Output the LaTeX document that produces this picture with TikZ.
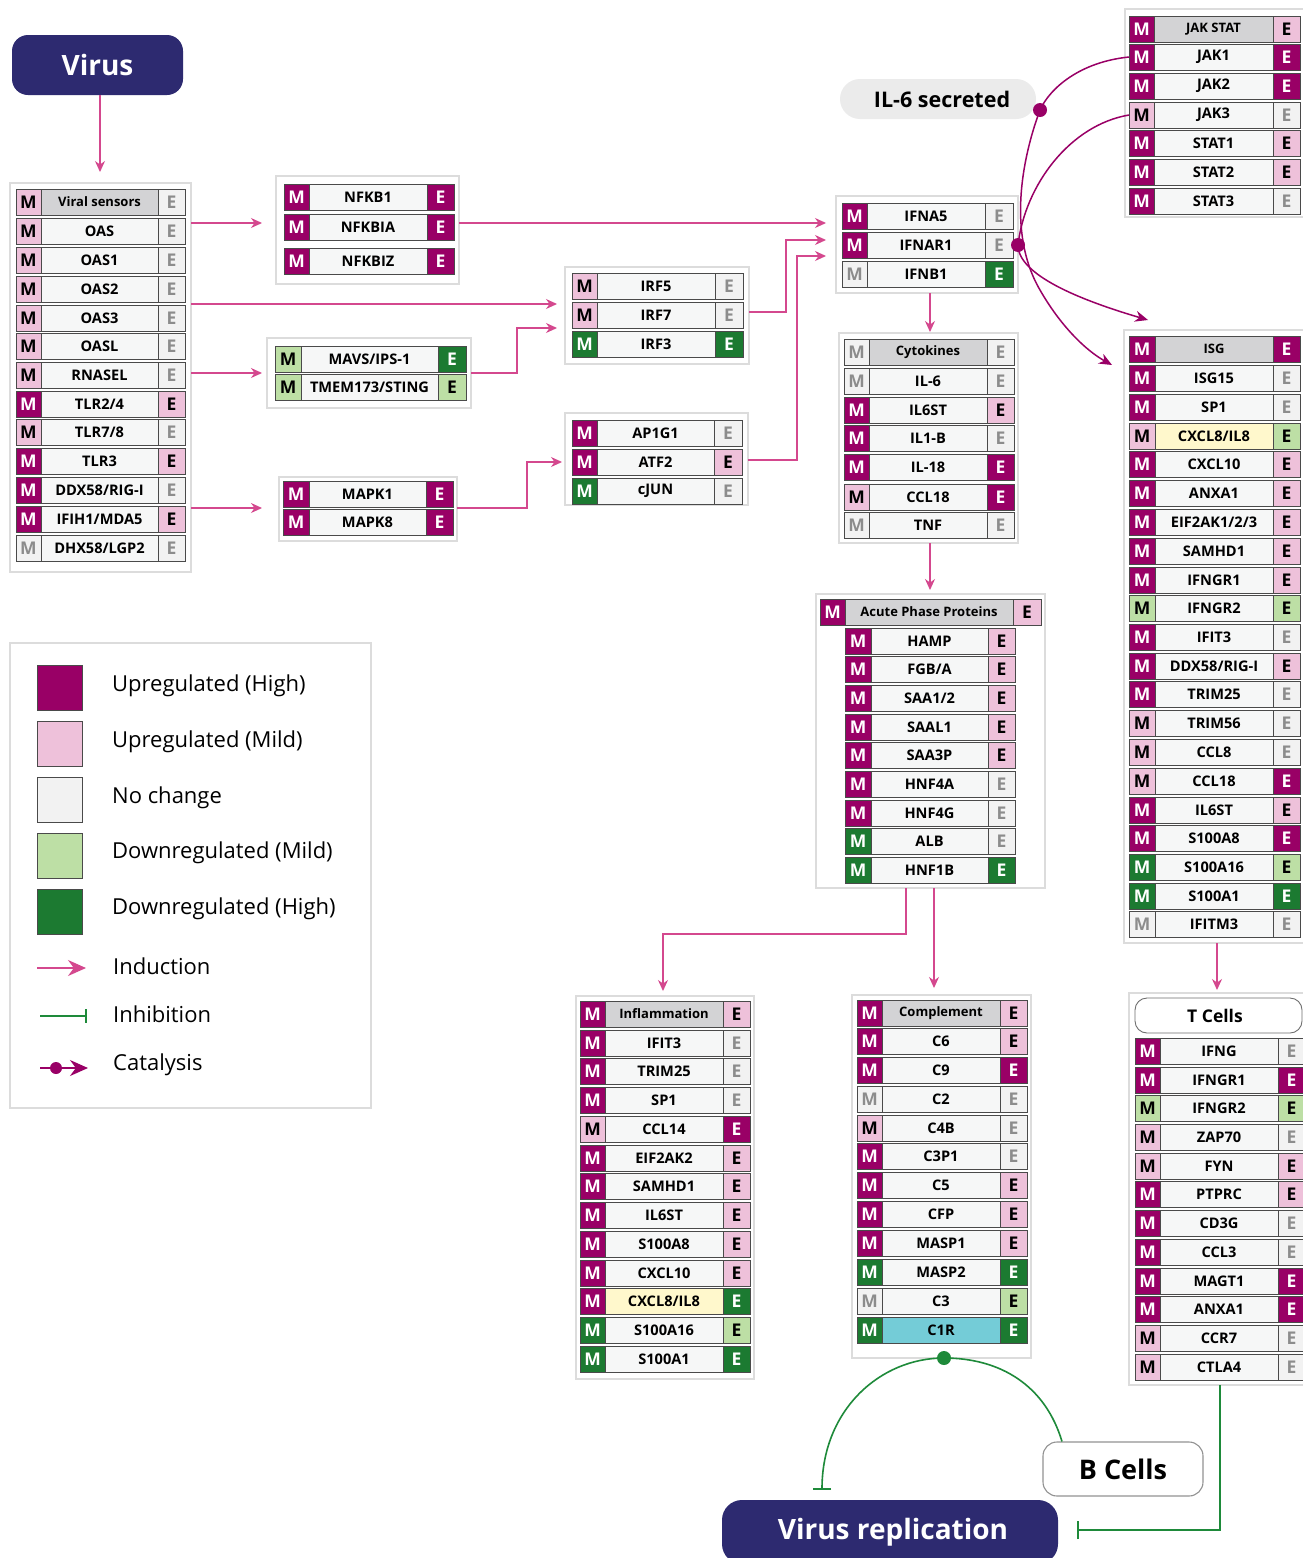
\documentclass[tikz,border=0pt]{standalone}
\usepackage{fontspec}
\setmainfont{Open Sans}
\usetikzlibrary{arrows.meta,calc}
\definecolor{cUH}{HTML}{990066}
\definecolor{cUM}{HTML}{EEC1DA}
\definecolor{cNC}{HTML}{F2F2F2}
\definecolor{cDM}{HTML}{BDDFA5}
\definecolor{cDH}{HTML}{1C7A31}
\definecolor{cNCt}{HTML}{8C8C8C}
\definecolor{cHead}{HTML}{D3D3D5}
\definecolor{cRow}{HTML}{F6F7F7}
\definecolor{cYel}{HTML}{FFF8CC}
\definecolor{cCyan}{HTML}{74CCD7}
\definecolor{cNavy}{HTML}{2D2A70}
\definecolor{cInd}{HTML}{D4488E}
\definecolor{cInh}{HTML}{1E8A3A}
\definecolor{cCat}{HTML}{990066}
\definecolor{cFrame}{HTML}{DCDCDC}
\definecolor{cBorder}{HTML}{4A4A4A}
\definecolor{cPill}{HTML}{EBEBEB}
\newcommand\gf{\fontsize{14.6}{16}\selectfont\bfseries}
\newcommand\hf{\fontsize{13}{14}\selectfont\bfseries}
\newcommand\mef{\fontsize{17.5}{19}\selectfont\bfseries}
\newcommand\genrow[8]{%
 \node[cell,st#5,minimum width={\wM*1pt},font=\mef] (#1m) at ({#2+\wM/2},#3) {M};
 \node[cell,fill=#7,minimum width={\wMid*1pt},font=#8] (#1) at ({#2+\wM+\wMid/2},#3) {#4};
 \node[cell,st#6,minimum width={\wE*1pt},font=\mef] (#1e) at ({#2+\wM+\wMid+\wE/2},#3) {E};
}
\newcommand\trow[5]{\genrow{#1}{\tx}{#2}{#3}{#4}{#5}{cRow}{\gf}}
\newcommand\thead[5]{\genrow{#1}{\tx}{#2}{#3}{#4}{#5}{cHead}{\hf}}
\newcommand\trowf[6]{\genrow{#1}{\tx}{#2}{#3}{#4}{#5}{#6}{\gf}}
\newcommand\grpframe[5]{\node[frameS,minimum width={(#4-#2)*1pt},minimum height={(#5-#3)*1pt}] (#1) at ({(#2+#4)/2},{(#3+#5)/2}) {};}
\begin{document}
\begin{tikzpicture}[x=1pt,y=-1pt,
 cell/.style={draw=cBorder,line width=0.7pt,minimum height=26pt,inner sep=0pt,outer sep=0pt},
 stUH/.style={fill=cUH,text=white},
 stUM/.style={fill=cUM,text=black},
 stNC/.style={fill=cNC,text=cNCt},
 stDM/.style={fill=cDM,text=black},
 stDH/.style={fill=cDH,text=white},
 frameS/.style={draw=cFrame,line width=1.6pt,fill=white,inner sep=0pt,outer sep=0pt},
 ind/.style={draw=cInd,line width=1.3pt,-{Stealth[length=11pt,width=10pt]}},
 inh/.style={draw=cInh,line width=1.6pt,-{Bar[width=18pt,line width=1.6pt]}},
 cat/.style={draw=cCat,line width=1.5pt,-{Stealth[length=13pt,width=11pt]}},
 legsq/.style={draw=cBorder,line width=1pt,minimum size=45pt,inner sep=0pt},
 legtxt/.style={anchor=west,font=\fontsize{22}{25}\selectfont,inner sep=0pt},
 navy/.style={fill=cNavy,text=white,rounded corners=16pt,inner sep=0pt,font=\fontsize{28}{32}\selectfont\bfseries}
]
\useasboundingbox (0,0) rectangle (1302,1558);
\fill[white] (0,0) rectangle (1302,1558);

% ---------- frames ----------
\grpframe{vsF}{10}{183}{191}{572}
\grpframe{nfkbF}{276}{176}{459}{284}
\grpframe{mavsF}{267}{338}{471}{408}
\grpframe{mapkF}{279}{477}{457}{541}
\grpframe{irfF}{565}{267}{749}{364}
\grpframe{apoF}{565}{413}{748}{505}
\grpframe{ifnF}{836}{196}{1018}{293}
\grpframe{cytF}{839}{333}{1018}{543}
\grpframe{jakF}{1125}{9}{1320}{217}
\grpframe{isgF}{1124}{330}{1320}{943}
\grpframe{apF}{816}{594}{1045}{888}
\grpframe{inflF}{576}{996}{754}{1379}
\grpframe{compF}{852}{995}{1031}{1358}
\grpframe{tcF}{1129}{993}{1320}{1385}
\grpframe{legF}{10}{643}{371}{1108}

% ---------- Viral sensors ----------
\def\tx{16}\def\wM{25}\def\wMid{117}\def\wE{27}
\thead{vs0}{202}{Viral sensors}{UM}{NC}
\trow{vs1}{231}{OAS}{UM}{NC}
\trow{vs2}{260}{OAS1}{UM}{NC}
\trow{vs3}{289}{OAS2}{UM}{NC}
\trow{vs4}{318}{OAS3}{UM}{NC}
\trow{vs5}{346}{OASL}{UM}{NC}
\trow{vs6}{375}{RNASEL}{UM}{NC}
\trow{vs7}{404}{TLR2/4}{UH}{UM}
\trow{vs8}{432}{TLR7/8}{UM}{NC}
\trow{vs9}{461}{TLR3}{UH}{UM}
\trow{vs10}{490}{DDX58/RIG-I}{UH}{NC}
\trow{vs11}{519}{IFIH1/MDA5}{UH}{UM}
\trow{vs12}{548}{DHX58/LGP2}{NC}{NC}

% ---------- NFKB ----------
\def\tx{284}\def\wM{25}\def\wMid{118}\def\wE{27}
\trow{nf1}{197}{NFKB1}{UH}{UH}
\trow{nf2}{227}{NFKBIA}{UH}{UH}
\trow{nf3}{261}{NFKBIZ}{UH}{UH}

% ---------- MAVS ----------
\def\tx{275}\def\wM{26}\def\wMid{137}\def\wE{28}
\trow{mv1}{359}{MAVS/IPS-1}{DM}{DH}
\trow{mv2}{387}{TMEM173/STING}{DM}{DM}

% ---------- MAPK ----------
\def\tx{283}\def\wM{26}\def\wMid{117}\def\wE{27}
\trow{mk1}{494}{MAPK1}{UH}{UH}
\trow{mk2}{522}{MAPK8}{UH}{UH}

% ---------- IRF ----------
\def\tx{572}\def\wM{25}\def\wMid{118}\def\wE{28}
\trow{irf5}{286}{IRF5}{UM}{NC}
\trow{irf7}{315}{IRF7}{UM}{NC}
\trow{irf3}{344}{IRF3}{DH}{DH}

% ---------- AP1 ----------
\def\tx{572}\def\wM{25}\def\wMid{117}\def\wE{28}
\trow{ap1}{433}{AP1G1}{UH}{NC}
\trow{ap2}{462}{ATF2}{UH}{UM}
\trow{ap3}{491}{cJUN}{DH}{NC}

% ---------- IFN ----------
\def\tx{842}\def\wM{25}\def\wMid{118}\def\wE{28}
\trow{ifna5}{216}{IFNA5}{UH}{NC}
\trow{ifnar1}{245}{IFNAR1}{UH}{NC}
\trow{ifnb1}{274}{IFNB1}{NC}{DH}

% ---------- Cytokines ----------
\def\tx{844}\def\wM{25}\def\wMid{118}\def\wE{27}
\thead{cy0}{352}{Cytokines}{NC}{NC}
\trow{cy1}{381}{IL-6}{NC}{NC}
\trow{cy2}{410}{IL6ST}{UH}{UM}
\trow{cy3}{438}{IL1-B}{UH}{NC}
\trow{cy4}{467}{IL-18}{UH}{UH}
\trow{cy5}{497}{CCL18}{UM}{UH}
\trow{cy6}{525}{TNF}{NC}{NC}

% ---------- JAK STAT ----------
\def\tx{1129}\def\wM{25}\def\wMid{119}\def\wE{27}
\thead{jk0}{29}{JAK STAT}{UH}{UM}
\trow{jak1}{57}{JAK1}{UH}{UH}
\trow{jak2}{86}{JAK2}{UH}{UH}
\trow{jak3}{115}{JAK3}{UM}{NC}
\trow{st1}{143}{STAT1}{UH}{UM}
\trow{st2}{172}{STAT2}{UH}{UM}
\trow{st3}{201}{STAT3}{UH}{NC}

% ---------- ISG ----------
\def\tx{1129}\def\wM{26}\def\wMid{118}\def\wE{27}
\thead{is0}{349}{ISG}{UH}{UH}
\trow{is1}{378}{ISG15}{UH}{NC}
\trow{is2}{407}{SP1}{UH}{NC}
\trowf{is3}{436}{CXCL8/IL8}{UM}{DM}{cYel}
\trow{is4}{464}{CXCL10}{UH}{UM}
\trow{is5}{493}{ANXA1}{UH}{UM}
\trow{is6}{522}{EIF2AK1/2/3}{UH}{UM}
\trow{is7}{551}{SAMHD1}{UH}{UM}
\trow{is8}{580}{IFNGR1}{UH}{UM}
\trow{is9}{608}{IFNGR2}{DM}{DM}
\trow{is10}{637}{IFIT3}{UH}{NC}
\trow{is11}{666}{DDX58/RIG-I}{UH}{UM}
\trow{is12}{694}{TRIM25}{UH}{NC}
\trow{is13}{723}{TRIM56}{UM}{NC}
\trow{is14}{752}{CCL8}{UM}{NC}
\trow{is15}{781}{CCL18}{UM}{UH}
\trow{is16}{810}{IL6ST}{UH}{UM}
\trow{is17}{838}{S100A8}{UH}{UH}
\trow{is18}{867}{S100A16}{DH}{DM}
\trow{is19}{896}{S100A1}{DH}{DH}
\trow{is20}{924}{IFITM3}{NC}{NC}

% ---------- Acute phase ----------
\def\tx{820}\def\wM{25}\def\wMid{168}\def\wE{28}
\thead{apr0}{612}{Acute Phase Proteins}{UH}{UM}
\def\tx{845}\def\wM{26}\def\wMid{117}\def\wE{27}
\trow{apr1}{641}{HAMP}{UH}{UM}
\trow{apr2}{669}{FGB/A}{UH}{UM}
\trow{apr3}{698}{SAA1/2}{UH}{UM}
\trow{apr4}{727}{SAAL1}{UH}{UM}
\trow{apr5}{755}{SAA3P}{UH}{UM}
\trow{apr6}{784}{HNF4A}{UH}{NC}
\trow{apr7}{813}{HNF4G}{UH}{NC}
\trow{apr8}{841}{ALB}{DH}{NC}
\trow{apr9}{870}{HNF1B}{DH}{DH}

% ---------- Inflammation ----------
\def\tx{580}\def\wM{25}\def\wMid{118}\def\wE{27}
\thead{in0}{1014}{Inflammation}{UH}{UM}
\trow{in1}{1043}{IFIT3}{UH}{NC}
\trow{in2}{1071}{TRIM25}{UH}{NC}
\trow{in3}{1100}{SP1}{UH}{NC}
\trow{in4}{1129}{CCL14}{UM}{UH}
\trow{in5}{1158}{EIF2AK2}{UH}{UM}
\trow{in6}{1186}{SAMHD1}{UH}{UM}
\trow{in7}{1215}{IL6ST}{UH}{UM}
\trow{in8}{1244}{S100A8}{UH}{UM}
\trow{in9}{1273}{CXCL10}{UH}{UM}
\trowf{in10}{1301}{CXCL8/IL8}{UH}{DH}{cYel}
\trow{in11}{1330}{S100A16}{DH}{DM}
\trow{in12}{1359}{S100A1}{DH}{DH}

% ---------- Complement ----------
\def\tx{857}\def\wM{25}\def\wMid{118}\def\wE{27}
\thead{co0}{1013}{Complement}{UH}{UM}
\trow{co1}{1041}{C6}{UH}{UM}
\trow{co2}{1070}{C9}{UH}{UH}
\trow{co3}{1099}{C2}{NC}{NC}
\trow{co4}{1128}{C4B}{UM}{NC}
\trow{co5}{1156}{C3P1}{UH}{NC}
\trow{co6}{1185}{C5}{UH}{UM}
\trow{co7}{1214}{CFP}{UH}{UM}
\trow{co8}{1243}{MASP1}{UH}{UM}
\trow{co9}{1272}{MASP2}{DH}{DH}
\trow{co10}{1301}{C3}{NC}{DM}
\trowf{co11}{1330}{C1R}{DH}{DH}{cCyan}

% ---------- T cells ----------
\node[draw=cBorder!80,line width=0.9pt,fill=white,rounded corners=12pt,minimum width=167pt,minimum height=35pt,inner sep=0pt,font=\fontsize{17.5}{20}\selectfont\bfseries] (tcell) at (1218.5,1015.5) {\hspace*{-7pt}T Cells};
\def\tx{1135}\def\wM{25}\def\wMid{118}\def\wE{27}
\trow{tc1}{1051}{IFNG}{UH}{NC}
\trow{tc2}{1080}{IFNGR1}{UH}{UH}
\trow{tc3}{1108}{IFNGR2}{DM}{DM}
\trow{tc4}{1137}{ZAP70}{UM}{NC}
\trow{tc5}{1166}{FYN}{UM}{UM}
\trow{tc6}{1194}{PTPRC}{UH}{UM}
\trow{tc7}{1223}{CD3G}{UH}{NC}
\trow{tc8}{1252}{CCL3}{UH}{NC}
\trow{tc9}{1281}{MAGT1}{UH}{UH}
\trow{tc10}{1309}{ANXA1}{UH}{UH}
\trow{tc11}{1338}{CCR7}{UM}{NC}
\trow{tc12}{1367}{CTLA4}{UM}{NC}

% ---------- labelled boxes ----------
\node[navy,minimum width=171pt,minimum height=60pt] (virus) at (97.5,65) {Virus};
\node[navy,rounded corners=20pt,minimum width=336pt,minimum height=64pt] (vrep) at (890,1532) {\hspace*{6pt}Virus replication};
\node[fill=cPill,rounded corners=20pt,minimum width=196pt,minimum height=40pt,inner sep=0pt,font=\fontsize{21.5}{24}\selectfont\bfseries] (il6) at (938,99) {\hspace*{8pt}IL-6 secreted};
\node[draw=cBorder!60,line width=1.1pt,fill=white,rounded corners=14pt,minimum width=160pt,minimum height=54pt,inner sep=0pt,font=\fontsize{27}{30}\selectfont\bfseries] (bcell) at (1123,1469) {B Cells};

% ---------- induction connectors ----------
\draw[ind,shorten >=11pt] (virus.south -| 100,0) -- (vsF.north -| 100,0);
\draw[ind,shorten >=14pt] (vsF.east |- 0,223) -- (nfkbF.west |- 0,223);
\draw[ind,shorten >=8pt] (vsF.east |- 0,304) -- (irfF.west |- 0,304);
\draw[ind,shorten >=5pt] (vsF.east |- 0,373) -- (mavsF.west |- 0,373);
\draw[ind,shorten >=17pt] (vsF.east |- 0,508) -- (mapkF.west |- 0,508);
\draw[ind,shorten >=10pt] (nfkbF.east |- 0,223) -- (ifnF.west |- 0,223);
\draw[ind,shorten >=8pt] (mavsF.east |- 0,373) -| (517,328) -- (irfF.west |- 0,328);
\draw[ind,shorten >=3pt] (mapkF.east |- 0,508) -| (527,462) -- (apoF.west |- 0,462);
\draw[ind,shorten >=10pt] (irfF.east |- 0,312) -| (786,240) -- (ifnF.west |- 0,240);
\draw[ind,shorten >=10pt] (apoF.east |- 0,460) -| (797,256) -- (ifnF.west |- 0,256);
\draw[ind,shorten >=1pt] (ifnF.south -| 930,0) -- (cytF.north -| 930,0);
\draw[ind,shorten >=4pt] (cytF.south -| 930,0) -- (apF.north -| 930,0);
\draw[ind,shorten >=5pt] (apF.south -| 906,0) |- (663,934) -- (inflF.north -| 663,0);
\draw[ind,shorten >=7pt] (apF.south -| 934,0) -- (compF.north -| 934,0);
\draw[ind,shorten >=3pt] (isgF.south -| 1217,0) -- (tcF.north -| 1217,0);

% ---------- inhibition ----------
\draw[inh,shorten >=19pt] (tcF.south -| 1220,0) |- (vrep.east |- 0,1530);
\draw[inh,shorten >=10pt] (bcell.north -| 1062,0) .. controls (1045,1385) and (1000,1358) .. (compF.south -| 944,0) .. controls (880,1358) and (822,1410) .. (vrep.north -| 822,0);
\fill[cInh] (compF.south -| 944,0) circle (7);

% ---------- catalysis ----------
\coordinate (catd1) at (1040,110);
\coordinate (catd2) at (ifnF.east |- ifnar1e.east);
\draw[cat] (jak1m.west) .. controls (1080,62) and (1050,88) .. (catd1) .. controls (1025,150) and (1005,230) .. (1040,290) .. controls (1060,325) and (1085,350) .. ($(isgF.west |- 0,365)+(-12,0)$);
\draw[cat] (jak3m.west) .. controls (1070,125) and (1025,185) .. (catd2) .. controls (1018,275) and (1080,300) .. ($(isgF.north -| 1148,0)+(0,-10)$);
\fill[cCat] (catd1) circle (7);
\fill[cCat] (catd2) circle (7);

% ---------- legend ----------
\node[legsq,fill=cUH] (lq1) at (59.5,687.5) {};
\node[legsq,fill=cUM] (lq2) at (59.5,743.5) {};
\node[legsq,fill=cNC] (lq3) at (59.5,799.5) {};
\node[legsq,fill=cDM] (lq4) at (59.5,855.5) {};
\node[legsq,fill=cDH] (lq5) at (59.5,911.5) {};
\node[legtxt] (lt1) at (112,686) {Upregulated (High)};
\node[legtxt] (lt2) at (112,742) {Upregulated (Mild)};
\node[legtxt] (lt3) at (112,798) {No change};
\node[legtxt] (lt4) at (112,853) {Downregulated (Mild)};
\node[legtxt] (lt5) at (112,909) {Downregulated (High)};
\coordinate (li1) at (37,968); \coordinate (li2) at (86,968);
\draw[ind,-{Stealth[length=18pt,width=16pt]}] (li1) -- (li2);
\node[legtxt] (lt6) at (113,966) {Induction};
\coordinate (lh1) at (40,1016); \coordinate (lh2) at (87,1016);
\draw[inh,-{Bar[width=14pt,line width=1.6pt]}] (lh1) -- (lh2);
\node[legtxt] (lt7) at (113,1014) {Inhibition};
\coordinate (lc1) at (40,1068); \coordinate (lc2) at (88,1068); \coordinate (lcd) at (56,1068);
\draw[cat,-{Stealth[length=18pt,width=16pt]}] (lc1) -- (lc2);
\fill[cCat] (lcd) circle (6);
\node[legtxt] (lt8) at (113,1065) {Catalysis};
\end{tikzpicture}
\end{document}
